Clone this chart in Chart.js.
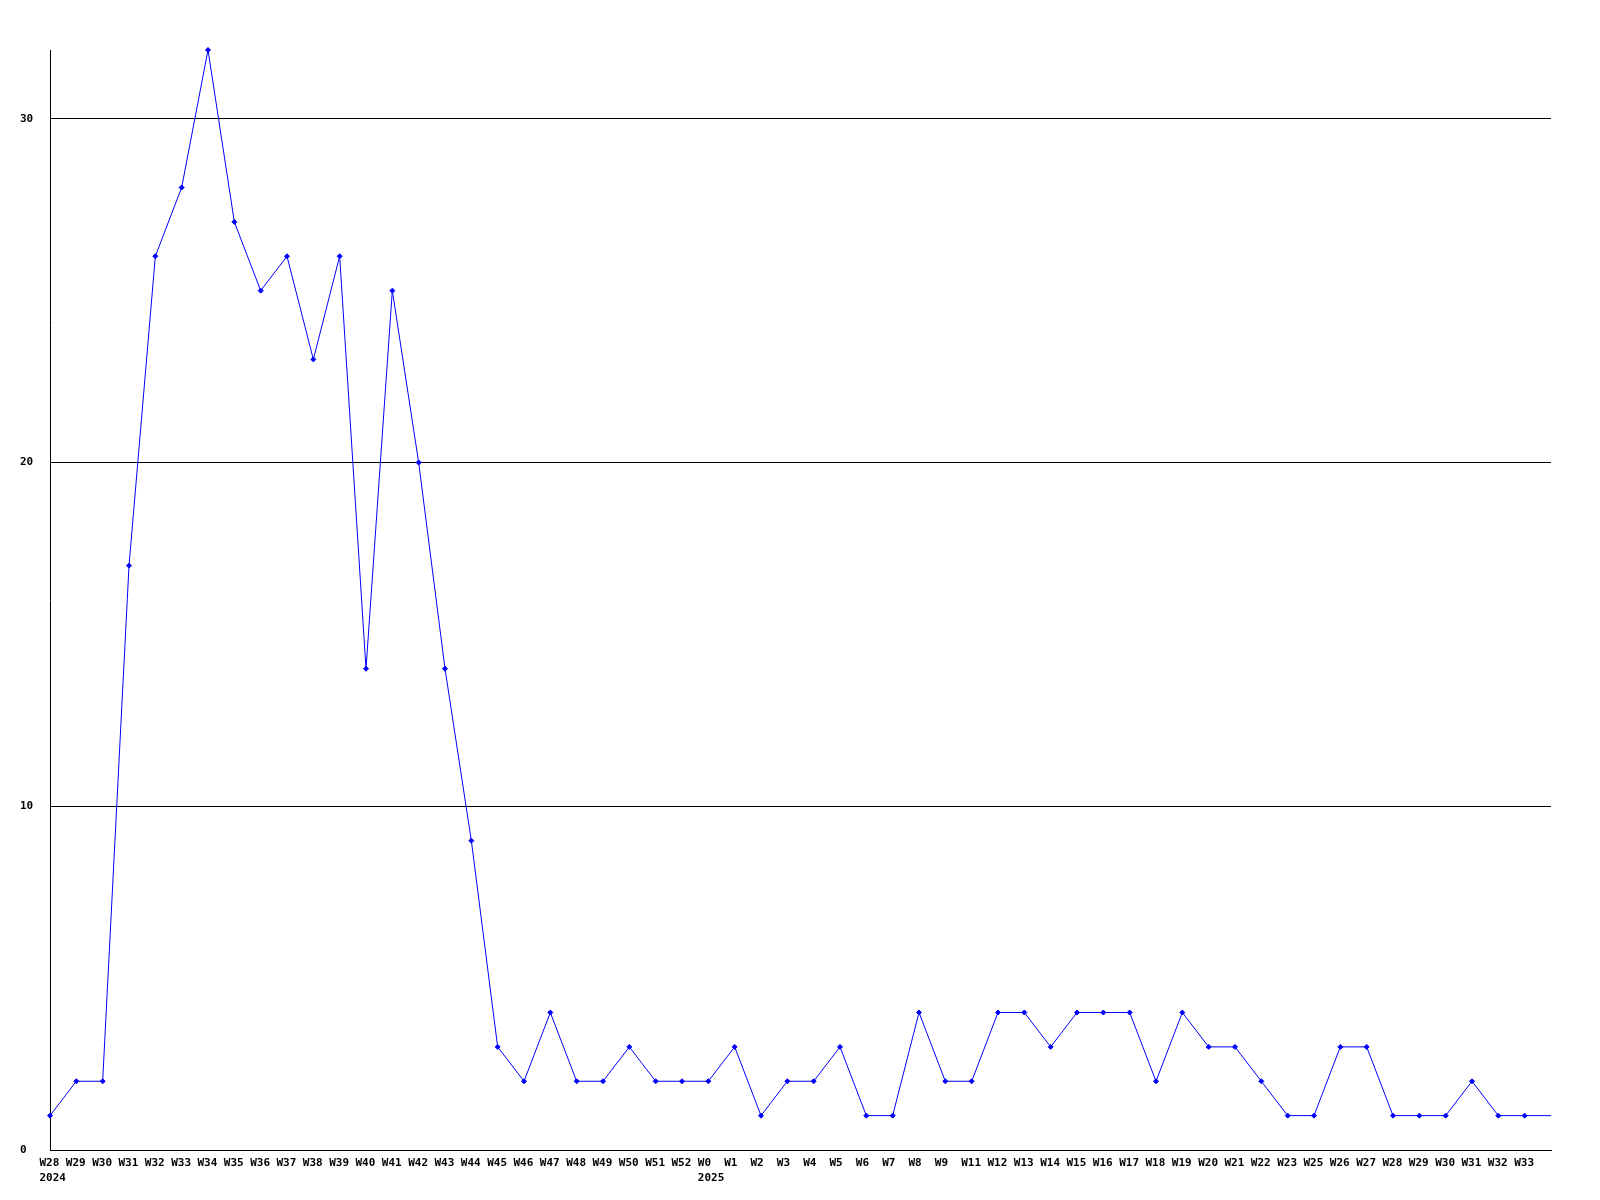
<!DOCTYPE html>
<html>
<head>
<meta charset="utf-8">
<title>Weekly count</title>
<script src="https://cdn.jsdelivr.net/npm/chart.js@4"></script>
<style>
  html, body { margin: 0; padding: 0; background: #fff; }
  #wrap { width: 1600px; height: 1200px; position: relative; }
</style>
</head>
<body>
<div id="wrap"><canvas id="weeklyChart"></canvas></div>
<script>
// week labels along the x axis (year shown under the first week of each year)
const weeks = [
  'W28', 'W29', 'W30', 'W31', 'W32', 'W33', 'W34', 'W35', 'W36', 'W37',
  'W38', 'W39', 'W40', 'W41', 'W42', 'W43', 'W44', 'W45', 'W46', 'W47',
  'W48', 'W49', 'W50', 'W51', 'W52',
  'W0', 'W1', 'W2', 'W3', 'W4', 'W5', 'W6', 'W7', 'W8', 'W9',
  'W11', 'W12', 'W13', 'W14', 'W15', 'W16', 'W17', 'W18', 'W19', 'W20',
  'W21', 'W22', 'W23', 'W25', 'W26', 'W27', 'W28', 'W29', 'W30', 'W31',
  'W32', 'W33',
  ''  // line runs on to the right edge
];
const yearMarks = { 0: '2024', 25: '2025' };

const counts = [
  1, 2, 2, 17, 26, 28, 32, 27, 25, 26,
  23, 26, 14, 25, 20, 14, 9, 3, 2, 4,
  2, 2, 3, 2, 2,
  2, 3, 1, 2, 2, 3, 1, 1, 4, 2,
  2, 4, 4, 3, 4, 4, 4, 2, 4, 3,
  3, 2, 1, 1, 3, 3, 1, 1, 1, 2,
  1, 1,
  1
];

const yTicks = [0, 10, 20, 30];
const yMax = 32;

const font = { family: "'DejaVu Sans Mono', monospace", size: 11, weight: 'bold', lineHeight: 1.4 };

const labels = weeks.map((w, i) => yearMarks[i] ? [w, yearMarks[i]] : w);
const lastIdx = counts.length - 1;

const ctx = document.getElementById('weeklyChart').getContext('2d');
new Chart(ctx, {
  type: 'line',
  data: {
    labels,
    datasets: [{
      data: counts,
      borderColor: '#0000ff',
      backgroundColor: '#0000ff',
      borderWidth: 1,
      pointStyle: 'rectRot',
      pointRadius: ctx => ctx.dataIndex === lastIdx ? 0 : 2.5,
      pointBorderWidth: 1,
      tension: 0,
      fill: false,
      clip: false,
    }],
  },
  options: {
    responsive: true,
    maintainAspectRatio: false,
    animation: false,
    layout: { padding: { left: 20, top: 50, right: 49, bottom: 0 } },
    plugins: { legend: { display: false }, tooltip: { enabled: false } },
    scales: {
      x: {
        offset: false,
        afterFit: s => { s.height = 50; },
        grid: { display: false, drawTicks: false },
        border: { color: '#000', width: 1 },
        ticks: {
          autoSkip: false,
          maxRotation: 0,
          minRotation: 0,
          align: 'start',
          labelOffset: -10.5,
          padding: 5,
          color: '#000',
          font,
        },
      },
      y: {
        min: 0,
        max: yMax,
        afterFit: s => { s.width = 30; },
        afterBuildTicks: s => { s.ticks = yTicks.map(v => ({ value: v })); },
        grid: { color: '#000', lineWidth: 1, drawTicks: false },
        border: { color: '#000', width: 1 },
        ticks: {
          crossAlign: 'far',
          padding: 0,
          color: '#000',
          font,
        },
      },
    },
  },
});
</script>
</body>
</html>
